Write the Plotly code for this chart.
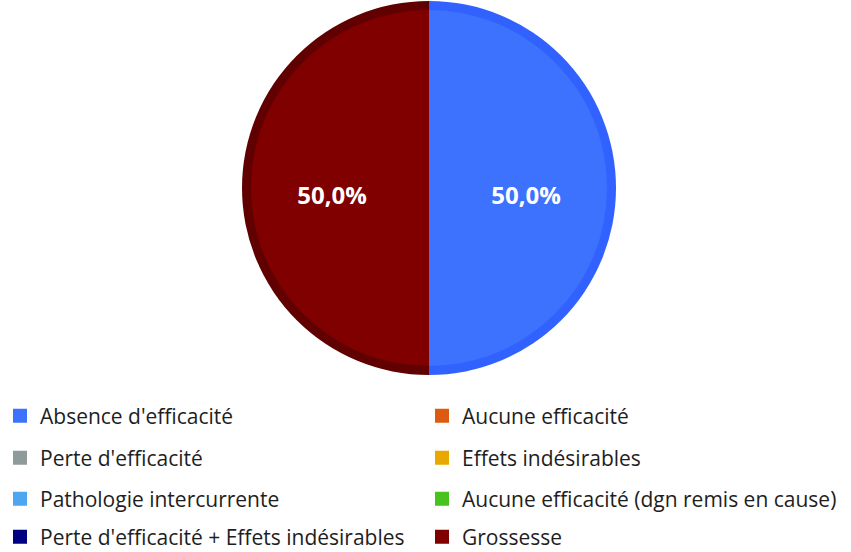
import plotly.graph_objects as go

# Reasons for stopping treatment (share of patients, %)
categories = [
    "Absence d'efficacité",
    "Aucune efficacité",
    "Perte d'efficacité",
    "Effets indésirables",
    "Pathologie intercurrente",
    "Aucune efficacité (dgn remis en cause)",
    "Perte d'efficacité + Effets indésirables",
    "Grossesse",
]
shares = [50.0, 0, 0, 0, 0, 0, 0, 50.0]

colors = ["#3D72FF", "#DD5A10", "#8F9A9A", "#E8A800",
          "#4FA6F0", "#48C21C", "#000080", "#800000"]
rim_colors = ["#3162FF", "#B84608", "#707A7A", "#C08A00",
              "#3A8AD0", "#38A014", "#000060", "#600000"]

W, H = 851, 552
cx, cy = 429, 188          # pie centre in pixels (from top-left)
r_outer, rim = 187, 9      # outer radius and rim thickness
r_text = 200               # radius used to place the percentage labels

fig = go.Figure()

# only slices with a non-zero share are drawn
shown = [i for i, v in enumerate(shares) if v > 0]
pie_labels = [categories[i] for i in shown]
pie_values = [shares[i] for i in shown]


def domain(r):
    clamp = lambda v: min(1.0, max(0.0, v))
    return dict(x=[clamp((cx - r) / W), clamp((cx + r) / W)],
                y=[clamp((H - cy - r) / H), clamp((H - cy + r) / H)])


common = dict(labels=pie_labels, values=pie_values, sort=False,
              direction="counterclockwise", rotation=0, showlegend=False)

# darker rim underneath
fig.add_trace(go.Pie(
    **common, domain=domain(r_outer),
    marker=dict(colors=[rim_colors[i] for i in shown], line=dict(width=0)),
    textinfo="none", hoverinfo="skip",
))

# main slices
fig.add_trace(go.Pie(
    **common, domain=domain(r_outer - rim),
    marker=dict(colors=[colors[i] for i in shown], line=dict(width=0)),
    textinfo="none",
))

# percentage labels
fig.add_trace(go.Pie(
    **common, domain=domain(r_text),
    marker=dict(colors=["rgba(0,0,0,0)"] * len(shown), line=dict(width=0)),
    texttemplate="%{percent:.1%}", textposition="inside",
    insidetextorientation="horizontal",
    textfont=dict(family="Open Sans", size=24, color="white", weight="bold"),
    hoverinfo="skip",
))

# legend: two columns, four rows
col_x = [0, 422]
row_y = [416, 458, 499, 537]
legend_layout = {}
for k, (name, col) in enumerate(zip(categories, colors)):
    lid = "legend" if k == 0 else f"legend{k + 1}"
    fig.add_trace(go.Scatter(
        x=[None], y=[None], mode="markers", name=name,
        marker=dict(symbol="square", size=14, color=col),
        legend=lid, hoverinfo="skip",
    ))
    row, c = divmod(k, 2)
    legend_layout[lid] = dict(
        x=col_x[c] / W, y=1 - row_y[row] / H,
        xref="container", yref="container",
        xanchor="left", yanchor="middle",
        bgcolor="rgba(0,0,0,0)", borderwidth=0,
        font=dict(family="Open Sans", size=21, color="#1E1E1E"),
    )

fig.update_layout(
    width=W, height=H,
    margin=dict(l=0, r=0, t=0, b=0, autoexpand=False),
    paper_bgcolor="white", plot_bgcolor="white",
    separators=", ",
    xaxis=dict(visible=False), yaxis=dict(visible=False),
    **legend_layout,
)

fig.write_html("out.html")
